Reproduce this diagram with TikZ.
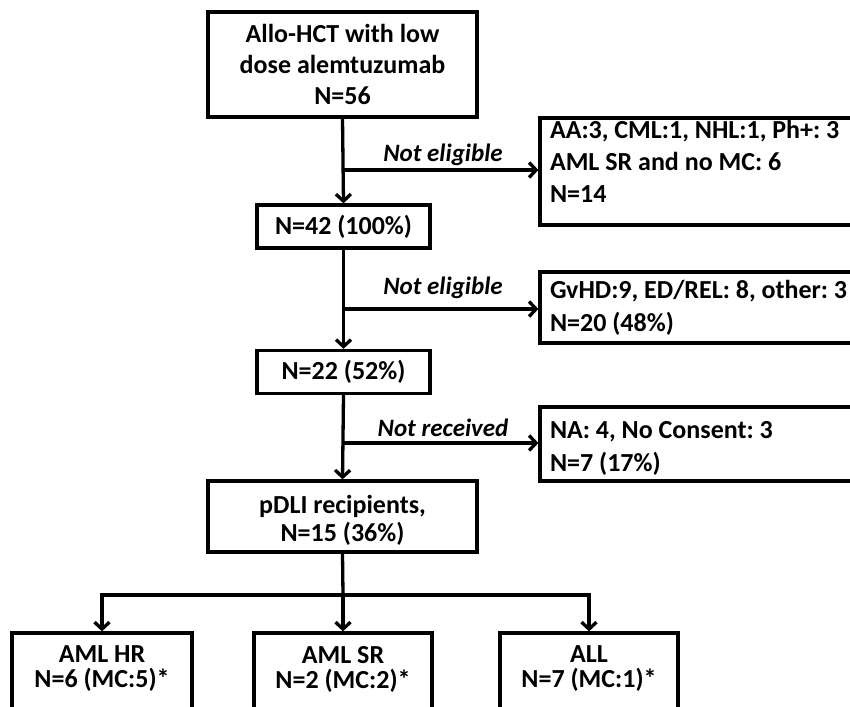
\documentclass[tikz,border=0pt]{standalone}
\usepackage{fontspec}
\setmainfont{Carlito}
\usetikzlibrary{arrows.meta}
\newcommand{\dstrut}[1]{\rule[-#1]{0pt}{#1}}
\newcommand{\hstrut}[1]{\rule{0pt}{#1}}
\begin{document}
\begin{tikzpicture}[x=1pt,y=-1pt,
  line width=3.3pt,
  box/.style={draw, rectangle, align=flush center, inner sep=0pt, font=\fontsize{26}{31}\selectfont\bfseries\frenchspacing},
  rbox/.style={draw, rectangle, align=flush left, inner xsep=10pt, inner ysep=0pt, text width=338pt, font=\fontsize{26}{32}\selectfont\bfseries\frenchspacing},
  lbl/.style={font=\fontsize{25}{28}\selectfont\bfseries\itshape, inner sep=0pt},
  arr/.style={-{Straight Barb[length=7pt,width=15pt]}}]
\useasboundingbox (0,0) rectangle (850,706);
\clip (0,0) rectangle (850,706);
\node[box, minimum width=269pt, minimum height=105pt] (top) at (342.5,64.5) {Allo-HCT with low\\dose alemtuzumab\\N=56};
\node[box, minimum width=173pt, minimum height=43pt] (n42) at (343.5,226.5) {N=42 (100\%)};
\node[box, minimum width=173pt, minimum height=43pt] (n22) at (343.5,372) {N=22 (52\%)};
\node[box, minimum width=269pt, minimum height=71pt, font=\fontsize{26}{28}\selectfont\bfseries\frenchspacing] (pdli) at (342.5,516.5) {\hstrut{26pt}pDLI recipients,\\N=15 (36\%)};
\tikzset{bbox/.style={box, minimum height=88pt, font=\fontsize{26}{25}\selectfont\bfseries\frenchspacing}}
\node[bbox, minimum width=180pt] (hr) at (102,677) {AML HR\\N=6 (MC:5)*\dstrut{20pt}};
\node[bbox, minimum width=178pt] (sr) at (343,677) {AML SR\\N=2 (MC:2)*\dstrut{20pt}};
\node[bbox, minimum width=178pt] (all) at (589,677) {ALL\\N=7 (MC:1)*\dstrut{20pt}};
\node[rbox, minimum height=107pt] (r1) at (719,171.5) {AA:3, CML:1, NHL:1, Ph+: 3\\AML SR and no MC: 6\\N=14\dstrut{20pt}};
\node[rbox, minimum height=71pt, font=\fontsize{26}{33}\selectfont\bfseries\frenchspacing] (r2) at (719,307.5) {GvHD:9, ED/REL: 8, other: 3\\N=20 (48\%)};
\node[rbox, minimum height=74pt, font=\fontsize{26}{33}\selectfont\bfseries\frenchspacing] (r3) at (719,444) {\hstrut{25pt}NA: 4, No Consent: 3\\N=7 (17\%)};
\coordinate (b1) at (343,170);
\coordinate (b2) at (343,309);
\coordinate (b3) at (343,443);
\coordinate (sp) at (343,595);
\draw[arr] (top.south) -- (n42.north);
\draw[arr] (n42.south) -- (n22.north);
\draw[arr] (n22.south) -- (pdli.north);
\draw[arr] (b1) -- (b1 -| r1.west);
\draw[arr] (b2) -- (b2 -| r2.west);
\draw[arr] (b3) -- (b3 -| r3.west);
\node[lbl] (l1) at (443,155) {Not eligible};
\node[lbl] (l2) at (443,288) {Not eligible};
\node[lbl] (l3) at (443,428) {Not received};
\draw (pdli.south) -- (sp);
\draw[arr] (sp) -- (sr.north);
\draw[arr] (sp) -| (hr.north);
\draw[arr] (sp) -| (all.north);
\end{tikzpicture}
\end{document}
